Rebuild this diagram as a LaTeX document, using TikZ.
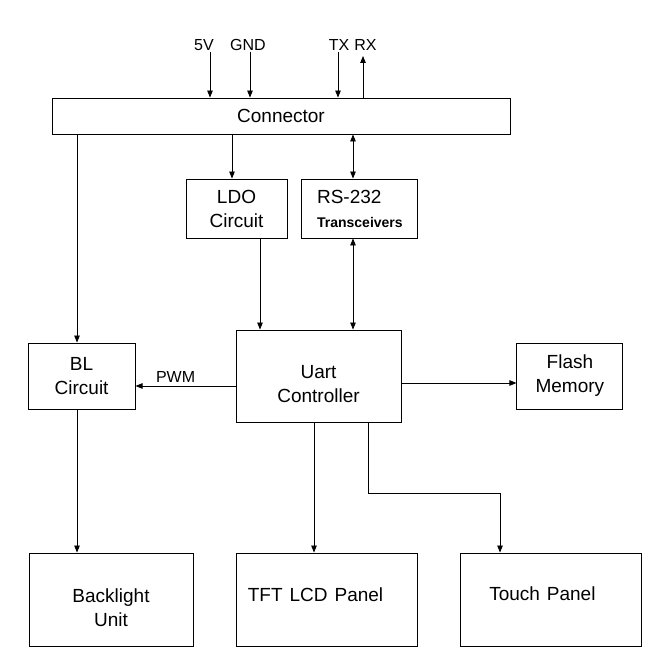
\documentclass[tikz,border=0pt]{standalone}
\usepackage{fontspec}
\setmainfont{Liberation Sans}
\usetikzlibrary{arrows.meta,positioning}

\begin{document}
\begin{tikzpicture}[
  x=1pt,y=1pt,
  font=\fontsize{19}{24}\selectfont,
  box/.style={draw,line width=0.9pt,align=center,inner sep=0pt},
  txt/.style={align=center,inner sep=0pt},
  arr/.style={-{Triangle[length=7pt,width=5.5pt]},line width=0.8pt},
  dblarr/.style={{Triangle[length=7pt,width=5.5pt]}-{Triangle[length=7pt,width=5.5pt]},line width=0.8pt},
  sig/.style={font=\fontsize{16}{18}\selectfont}
]
\useasboundingbox (0,0) rectangle (656,671);
% blocks
\node[box,minimum width=458pt,minimum height=36pt] (conn) at (281,555) {Connector};
\node[box,minimum width=101pt,minimum height=59pt] (ldo) at (236.5,462.5) {LDO\\Circuit};
\node[box,minimum width=116pt,minimum height=59pt,align=left,right=14pt of ldo] (rs)
  {RS-232\\{\fontsize{14}{16}\selectfont\bfseries Transceivers}};
\node[box,minimum width=165pt,minimum height=92pt,
  label={[txt,yshift=-8pt]center:Uart\\Controller}] (uart) at (318.5,295) {};
\node[box,minimum width=107pt,minimum height=66pt,left=100pt of uart] (bl) {BL\\Circuit};
\node[box,minimum width=106pt,minimum height=66pt,right=115pt of uart] (flash) {Flash\\Memory};
\node[box,minimum width=164pt,minimum height=93pt,
  label={[txt,yshift=-8pt]center:Backlight\\Unit}] (blu) at (111,71.5) {};
\node[box,minimum width=181pt,minimum height=93pt,
  label={[txt,xshift=-11pt,yshift=5pt]center:TFT\hspace{7pt}LCD\hspace{7pt}Panel}] (tft)
  at (326.5,71.5) {};
\node[box,minimum width=181pt,minimum height=93pt,right=43pt of tft,
  label={[txt,xshift=-9pt,yshift=6pt]center:Touch\hspace{7pt}Panel}] (touch) {};
% connector pins
\node[sig] (l5v) at (204,626) {5V};
\node[sig] (lgnd) at (248,626) {GND};
\node[sig] (ltx) at (339,626) {TX};
\node[sig] (lrx) at (365.5,626) {RX};
\coordinate (p5v) at (210,619);
\coordinate (pgnd) at (250,619);
\coordinate (ptx) at (338,619);
\coordinate (prx) at (363,615);
% lanes
\coordinate (lnbl) at (77,0);
\coordinate (lnldo) at (232,0);
\coordinate (lnpw) at (260,0);
\coordinate (lnrs) at (353,0);
\coordinate (lntft) at (314,0);
\coordinate (lntch) at (368,0);
\coordinate (tbend) at (500,178);
\coordinate (lnpwm) at (0,285);
\coordinate (lnfl) at (0,288);
% links
\draw[arr] (p5v) -- (p5v |- conn.north);
\draw[arr] (pgnd) -- (pgnd |- conn.north);
\draw[arr] (ptx) -- (ptx |- conn.north);
\draw[arr] (prx |- conn.north) -- (prx);
\draw[arr] (lnbl |- conn.south) -- (lnbl |- bl.north);
\draw[arr] (lnbl |- bl.south) -- (lnbl |- blu.north);
\draw[arr] (lnldo |- conn.south) -- (lnldo |- ldo.north);
\draw[arr] (lnpw |- ldo.south) -- (lnpw |- uart.north);
\draw[dblarr] (lnrs |- conn.south) -- (lnrs |- rs.north);
\draw[dblarr] (lnrs |- rs.south) -- (lnrs |- uart.north);
\draw[arr] (uart.west |- lnpwm) -- (bl.east |- lnpwm) node[pos=0.6,above,sig] {PWM};
\draw[arr] (uart.east |- lnfl) -- (flash.west |- lnfl);
\draw[arr] (lntft |- uart.south) -- (lntft |- tft.north);
\draw[arr] (lntch |- uart.south) |- (tbend) -- (tbend |- touch.north);
\end{tikzpicture}
\end{document}
